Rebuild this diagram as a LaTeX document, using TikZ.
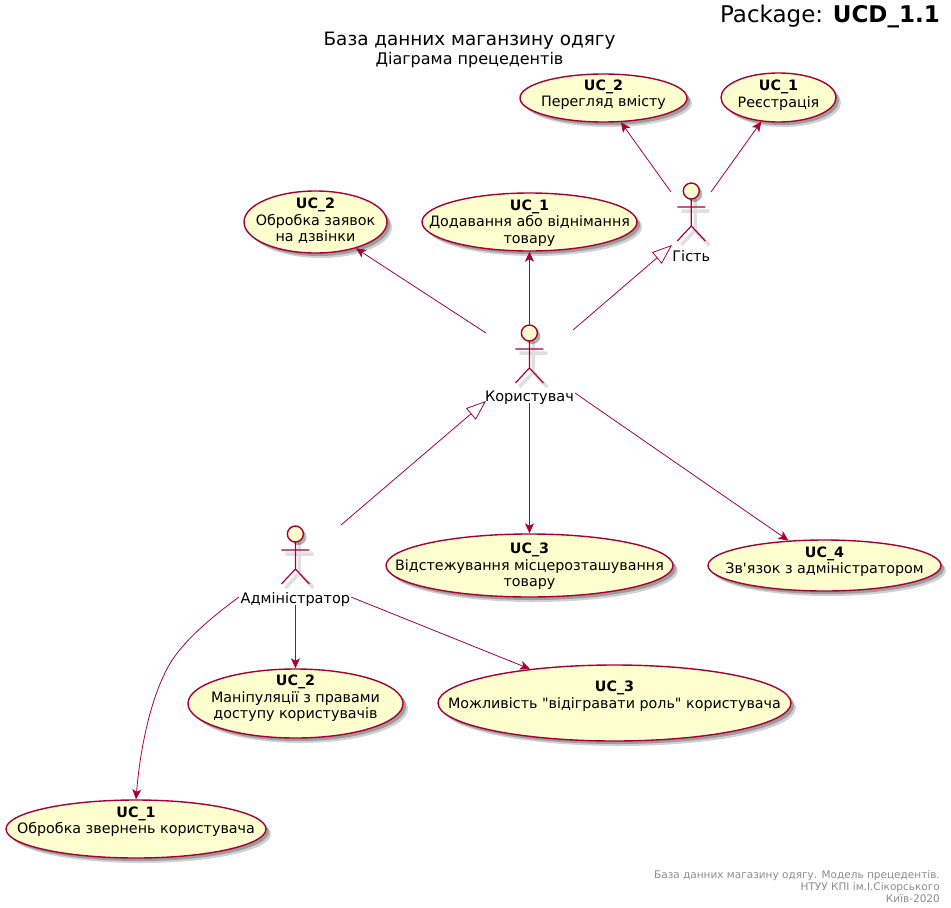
\documentclass[tikz,border=0pt]{standalone}
\usepackage{fontspec}
\setmainfont{DejaVu Sans}[Ligatures=TeXOff]
\usetikzlibrary{arrows.meta,shapes.geometric,shadows}
\definecolor{umlred}{HTML}{A80036}
\definecolor{umlfill}{HTML}{FEFECE}
\tikzset{
  usecase/.style={draw=umlred,fill=umlfill,ellipse,line width=1.4pt,inner sep=0pt,
    drop shadow={opacity=0.18,fill=black,shadow xshift=5pt,shadow yshift=-5pt},
    drop shadow={opacity=0.25,fill=black,shadow xshift=3pt,shadow yshift=-3pt}},
  uctext/.style 2 args={label={[yshift=#1pt,inner sep=0pt,align=center,font=\fontsize{14.3}{16.6}\selectfont]center:{#2}}},
  head/.style={draw=umlred,fill=umlfill,circle,line width=1.4pt,inner sep=0pt,minimum size=16pt,
    drop shadow={opacity=0.3,fill=black,shadow xshift=3pt,shadow yshift=-3pt}},
  actorname/.style={inner sep=0pt,font=\fontsize{14.5}{17}\selectfont},
  assoc/.style={draw=umlred,line width=0.8pt,-{Stealth[inset=2.5pt,length=10pt,width=9pt]}},
  inherit/.style={draw=umlred,line width=0.8pt,-{Triangle[open,fill=white,length=20pt,width=15pt]}},
}
\begin{document}
\begin{tikzpicture}[x=1pt,y=-1pt]
	\useasboundingbox (0,0) rectangle (951,908);
	% titles
	\node[anchor=east,inner sep=0pt,font=\fontsize{23}{28}\selectfont] (pkg) at (940,16) {Package: \textbf{UCD\_1.1}};
	\node[inner sep=0pt,font=\fontsize{18.4}{21}\selectfont] (title) at (469.5,40.5) {База данних маганзину одягу};
	\node[inner sep=0pt,font=\fontsize{16}{19}\selectfont] (subtitle) at (469.5,60.5) {Діаграма прецедентів};
	\node[anchor=south east,inner sep=0pt,align=right,text=gray!90,font=\fontsize{10.5}{12}\selectfont] (footer) at (940,903)
		{База данних магазину одягу. Модель прецедентів.\\НТУУ КПІ ім.І.Сікорського\\Київ-2020};
	% use cases
	\node[usecase,minimum width=167pt,minimum height=48pt,uctext={3.5}{\textbf{UC\_2}\\Перегляд вмісту}] (viewuc) at (603.5,98) {};
	\node[usecase,minimum width=115pt,minimum height=49pt,uctext={2.5}{\textbf{UC\_1}\\Реєстрація}] (reguc) at (778.5,97.5) {};
	\node[usecase,minimum width=143pt,minimum height=62pt,uctext={1}{\textbf{UC\_2}\\Обробка заявок\\на дзвінки}] (calluc) at (315.5,222) {};
	\node[usecase,minimum width=215pt,minimum height=58pt,uctext={-1}{\textbf{UC\_1}\\Додавання або віднімання\\товару}] (cartuc) at (529.5,222) {};
	\node[usecase,minimum width=287pt,minimum height=63pt,uctext={-1}{\textbf{UC\_3}\\Відстежування місцерозташування\\товару}] (trackuc) at (529.5,565.5) {};
	\node[usecase,minimum width=233pt,minimum height=51pt,uctext={4}{\textbf{UC\_4}\\Зв'язок з адміністратором}] (contactuc) at (824.5,565.5) {};
	\node[usecase,minimum width=215pt,minimum height=69pt,uctext={5}{\textbf{UC\_2}\\Маніпуляції з правами\\доступу користувачів}] (rightsuc) at (295.5,703.5) {};
	\node[usecase,minimum width=353pt,minimum height=76pt,uctext={7}{\textbf{UC\_3}\\Можливість "відігравати роль" користувача}] (roleuc) at (614.5,703) {};
	\node[usecase,minimum width=260pt,minimum height=58pt,uctext={7.5}{\textbf{UC\_1}\\Обробка звернень користувача}] (requc) at (136,829) {};
	% actors
	\foreach \nm/\px/\py/\txt in {guest/691.3/191/Гість,user/529.4/333/Користувач,admin/295.4/534/Адміністратор}{
		\draw[gray!25,line width=3.5pt] (\px+4,\py+8) -- (\px+4,\py+39) (\px-10,\py+20) -- (\px+18,\py+20)
			(\px-10,\py+54) -- (\px+4,\py+39) -- (\px+18,\py+54);
		\draw[umlred,line width=1.2pt] (\px,\py+8) -- (\px,\py+35) (\px-14,\py+16) -- (\px+14,\py+16)
			(\px-14,\py+50) -- (\px,\py+35) -- (\px+14,\py+50);
		\node[head] (\nm) at (\px,\py) {};
		\node[actorname] (\nm name) at (\px,\py+65) {\txt};
	}
	% free ends beside the actors
	\coordinate (guestl) at (671,192);
	\coordinate (guestr) at (711,192);
	\coordinate (guestin) at (672,245);
	\coordinate (userl) at (486,333);
	\coordinate (usert) at (529.4,324);
	\coordinate (userr) at (573,330);
	\coordinate (userb) at (529.4,403);
	\coordinate (usero) at (575,393);
	\coordinate (userin) at (486,401);
	\coordinate (admint) at (341,525);
	\coordinate (adminb) at (295.4,605);
	\coordinate (adminr) at (351,597);
	\coordinate (adminl) at (239,597);
	\draw[assoc] (guestl) -- (viewuc);
	\draw[assoc] (guestr) -- (reguc);
	\draw[assoc] (userl) -- (calluc);
	\draw[assoc] (usert) -- (cartuc);
	\draw[inherit] (userr) -- (guestin);
	\draw[assoc] (userb) -- (trackuc);
	\draw[assoc] (usero) -- (contactuc);
	\draw[inherit] (admint) -- (userin);
	\draw[assoc] (adminb) -- (rightsuc);
	\draw[assoc] (adminr) -- (roleuc);
	\draw[assoc] (adminl) .. controls (205,622) and (180,645) .. (168,667) .. controls (150,700) and (140,750) .. (requc.north);
\end{tikzpicture}
\end{document}
